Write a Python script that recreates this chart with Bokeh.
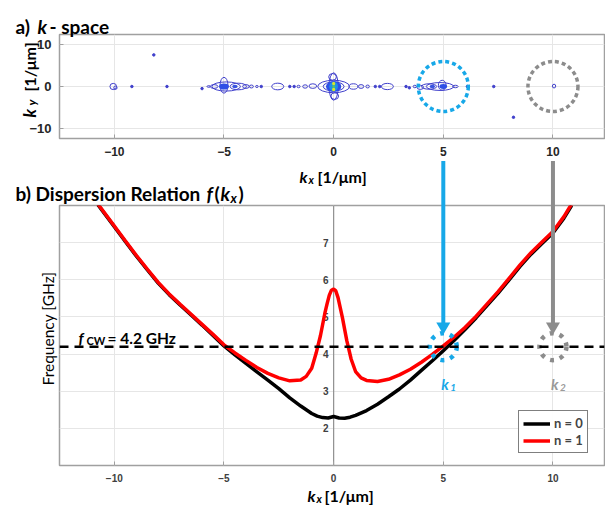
import math
from bokeh.plotting import figure
from bokeh.models import FixedTicker, Span, ColumnDataSource, Legend, LegendItem, Range1d
from bokeh.layouts import column
from bokeh.embed import file_html
from bokeh.resources import INLINE
from bokeh.core.properties import value

# ---------------- data ----------------
kx_ticks = [-10, -5, 0, 5, 10]
ky_ticks = [-10, 0, 10]
f_ticks = [2, 3, 4, 5, 6, 7]
f_grid = [1, 2, 3, 4, 5, 6, 7, 8]

# dispersion n = 0 (black)
k_n0 = [-10.75, -10.0, -9.5, -9.0, -8.5, -8.0, -7.5, -7.0, -6.5, -6.0, -5.5, -5.0, -4.5, -4.0,
        -3.5, -3.0, -2.5, -2.0, -1.5, -1.0, -0.75, -0.5, -0.25, 0.0, 0.25, 0.5, 0.75, 1.0, 1.5,
        2.0, 2.5, 3.0, 3.5, 4.0, 4.5, 5.0, 5.5, 6.0, 6.5, 7.0, 7.5, 8.0, 8.5, 9.0, 9.5, 10.0,
        10.5, 10.85]
f_n0 = [8.02, 7.43, 7.03, 6.64, 6.27, 5.91, 5.60, 5.32, 5.05, 4.78, 4.50, 4.22, 3.98, 3.75,
        3.52, 3.30, 3.07, 2.82, 2.60, 2.40, 2.33, 2.29, 2.28, 2.32, 2.28, 2.27, 2.30, 2.35, 2.48,
        2.65, 2.85, 3.06, 3.30, 3.56, 3.82, 4.09, 4.37, 4.67, 4.98, 5.31, 5.64, 6.00, 6.36, 6.69,
        6.98, 7.26, 7.66, 8.00]

# dispersion n = 1 (red)
k_n1 = [-10.75, -10.0, -9.5, -9.0, -8.5, -8.0, -7.5, -7.0, -6.5, -6.0, -5.5, -5.0, -4.5, -4.0,
        -3.5, -3.0, -2.5, -2.0, -1.5, -1.25, -1.0, -0.8, -0.6, -0.4, -0.3, -0.2, -0.1, 0.0, 0.1,
        0.2, 0.3, 0.4, 0.6, 0.8, 1.0, 1.25, 1.5, 2.0, 2.5, 3.0, 3.5, 4.0, 4.5, 5.0, 5.5, 6.0,
        6.5, 7.0, 7.5, 8.0, 8.5, 9.0, 9.5, 10.0, 10.5, 10.85]
f_n1 = [8.04, 7.45, 7.05, 6.66, 6.29, 5.93, 5.62, 5.34, 5.07, 4.80, 4.53, 4.25, 4.03, 3.83,
        3.64, 3.48, 3.36, 3.28, 3.30, 3.40, 3.62, 4.02, 4.50, 5.10, 5.35, 5.58, 5.72, 5.75, 5.70,
        5.52, 5.25, 4.98, 4.36, 3.86, 3.53, 3.36, 3.29, 3.26, 3.32, 3.44, 3.59, 3.78, 3.99, 4.22,
        4.46, 4.72, 5.02, 5.35, 5.68, 6.04, 6.40, 6.73, 7.02, 7.30, 7.70, 8.04]

f_cw = 4.2
k_marks = [5, 10]
mark_sub = ["1", "2"]

# k-space contour loops (centre kx, centre ky, width, height)
loop_kx = [0.0, 0.0, 0.0, -0.95, -1.3, -1.6, 0.9, 1.25, 1.55, 0.05, -0.05,
           -5.0, -4.9, -4.35, -4.0, -3.75, -3.5, -5.45, -5.7,
           4.95, 4.85, 4.35, 3.95, 3.7, 5.55,
           -2.55, 2.45, -10.05, -9.95, 10.05]
loop_ky = [0.0, 0.0, 0.0, 0.1, 0.0, 0.0, 0.0, 0.0, 0.0, -2.3, 2.3,
           0.3, 0.0, 0.0, 0.0, 0.0, 0.0, 0.0, 0.0,
           0.3, 0.0, 0.0, -0.2, 0.0, 0.0,
           0.0, 0.0, 0.0, -0.3, 0.1]
loop_w = [0.42, 1.45, 0.95, 0.35, 0.22, 0.14, 0.4, 0.25, 0.16, 0.35, 0.35,
          0.36, 1.3, 0.75, 0.3, 0.18, 0.12, 0.35, 0.15,
          0.35, 1.25, 0.7, 0.3, 0.15, 0.25,
          0.55, 0.55, 0.3, 0.15, 0.15]
loop_h = [6.6, 3.0, 2.2, 1.1, 0.8, 0.6, 1.3, 0.9, 0.7, 1.6, 1.6,
          3.8, 2.2, 1.6, 0.9, 0.7, 0.5, 0.9, 0.4,
          2.4, 1.9, 1.3, 1.0, 0.6, 0.6,
          1.6, 1.5, 1.5, 0.8, 0.9]

# filled cores of the k-space peaks
core_kx = [0.0, 0.0, 0.0, 0.0, 0.0, -5.0, 5.0, -4.5, 4.5]
core_ky = [0.0, 0.0, 0.7, -0.7, 0.0, 0.0, 0.0, 0.0, 0.0]
core_w = [0.7, 0.4, 0.14, 0.14, 0.14, 0.45, 0.35, 0.25, 0.25]
core_h = [2.6, 2.2, 0.9, 0.9, 0.6, 1.5, 1.2, 0.8, 0.8]
core_col = ["#2f4fe6", "#1f8fe8", "#d6e62b", "#d6e62b", "#4fc46a", "#2f4fe6", "#2f4fe6",
            "#3a55e0", "#3a55e0"]

# isolated spots
dot_kx = [-9.2, -7.6, -6.0, -3.3, -2.0, -1.8, 1.9, 2.1, 3.3, 3.45, 6.1, 7.3, -8.2, 8.2]
dot_ky = [0.0, 0.0, -0.5, 0.0, 0.0, 0.0, 0.0, 0.0, 0.0, -0.3, 0.0, 0.0, 7.6, -7.4]

# ---------------- geometry / style ----------------
BLUE = "#17a8e8"
GRAY = "#8c8c8c"
CONT = "#4040cc"
FRAME = "#a0a0a0"
GRID = "#e6e6e6"
TICK = "#262626"
TITLE_FONT = "Lato"
TICK_FONT = "Liberation Sans"

W = 605
FL, FR = 59, 604            # frame left / right (page px)
T_TOP, T_BOT = 34, 138      # top frame
B_TOP, B_BOT = 205, 465     # bottom frame
TOP_C0, TOP_C1 = 0, 161     # top canvas
BOT_C0, BOT_C1 = 161, 509   # bottom canvas
XR = (-12.5, 12.35)
KY = (-12.5, 12.5)
FY = (1.0, 8.0)


def px_x(px):
    return XR[0] + (px - FL) * (XR[1] - XR[0]) / (FR - FL)


def top_y(py):
    return KY[1] - (py - T_TOP) * (KY[1] - KY[0]) / (T_BOT - T_TOP)


def bot_y(py):
    return FY[1] - (py - B_TOP) * (FY[1] - FY[0]) / (B_BOT - B_TOP)


def lab(p, text, x, y, size, style="bold", color="black", angle=0.0, align="left",
        font=TITLE_FONT, baseline="alphabetic"):
    p.text(x=[x], y=[y], text=[text], text_font=value(font), text_font_size=f"{size}px",
           text_font_style=style, text_color=color, angle=angle, text_align=align,
           text_baseline=baseline, level="overlay")


def style_fig(p):
    p.outline_line_color = FRAME
    p.outline_line_width = 1.5
    p.background_fill_color = "white"
    p.border_fill_color = "white"
    p.grid.grid_line_color = GRID
    p.grid.grid_line_width = 1
    for ax in p.axis:
        ax.axis_line_color = None
        ax.major_tick_in = 4
        ax.major_tick_out = 0
        ax.major_tick_line_color = FRAME
        ax.minor_tick_line_color = None
        ax.major_label_text_font = TICK_FONT
        ax.major_label_text_font_style = "bold"
        ax.major_label_text_color = TICK


# ---------------- top: k-space ----------------
top = figure(width=W, height=TOP_C1 - TOP_C0, output_backend="svg", toolbar_location=None,
             x_range=Range1d(*XR), y_range=Range1d(*KY),
             min_border_left=FL, min_border_right=W - FR,
             min_border_top=T_TOP - TOP_C0, min_border_bottom=TOP_C1 - T_BOT)
top.xaxis.ticker = FixedTicker(ticks=kx_ticks)
top.yaxis.ticker = FixedTicker(ticks=ky_ticks)
top.xgrid.ticker = FixedTicker(ticks=kx_ticks)
top.ygrid.ticker = FixedTicker(ticks=ky_ticks)
style_fig(top)
top.xaxis.major_label_text_font_size = "12px"
top.yaxis.major_label_text_font_size = "13px"
top.xaxis.major_label_standoff = 8
top.yaxis.major_label_standoff = 8

top.ellipse(x=loop_kx, y=loop_ky, width=loop_w, height=loop_h, fill_color=None,
            line_color=CONT, line_width=1)
top.ellipse(x=core_kx, y=core_ky, width=core_w, height=core_h, fill_color=core_col,
            line_color=None)
top.scatter(x=dot_kx, y=dot_ky, size=2.5, marker="circle", color=CONT)
top.scatter(x=k_marks, y=[0, 0], size=50, marker="circle", fill_color=None,
            line_color=[BLUE, GRAY], line_width=3.5, line_dash="4 3")

# texts of top panel
lab(top, "a)", px_x(15), top_y(26), 19)
lab(top, "k", px_x(37), top_y(26), 19, style="bold italic")
lab(top, "- space", px_x(49), top_y(26), 19)
lab(top, "k", px_x(29), top_y(117), 17, style="bold italic", angle=math.pi / 2)
lab(top, "y", px_x(31), top_y(105), 12, style="bold italic", angle=math.pi / 2)
lab(top, "[1/μm]", px_x(29), top_y(91), 16, angle=math.pi / 2)

# ---------------- bottom: dispersion ----------------
bot = figure(width=W, height=BOT_C1 - BOT_C0, output_backend="svg", toolbar_location=None,
             x_range=Range1d(*XR), y_range=Range1d(*FY),
             min_border_left=FL, min_border_right=W - FR,
             min_border_top=B_TOP - BOT_C0, min_border_bottom=BOT_C1 - B_BOT)
bot.xaxis.ticker = FixedTicker(ticks=kx_ticks)
bot.xgrid.ticker = FixedTicker(ticks=kx_ticks)
bot.ygrid.ticker = FixedTicker(ticks=f_grid)
bot.yaxis.visible = False
style_fig(bot)
bot.xaxis.major_label_text_font_size = "10px"
bot.xaxis.major_label_standoff = 8
bot.xaxis.major_label_text_color = "#404040"

# y axis through the origin
bot.add_layout(Span(location=0, dimension="height", line_color="#909090", line_width=1.2,
                    level="underlay"))
ysrc = ColumnDataSource(dict(x=[0] * len(f_ticks), y=f_ticks, t=[str(v) for v in f_ticks]))
bot.text(x="x", y="y", text="t", source=ysrc, text_align="right", text_baseline="middle",
         x_offset=-5, text_font=value(TICK_FONT), text_font_style="bold",
         text_font_size="10px", text_color="#404040")

r0 = bot.line(k_n0, f_n0, line_color="black", line_width=3.5)
r1 = bot.line(k_n1, f_n1, line_color="#ff0000", line_width=3.5)

bot.add_layout(Span(location=f_cw, dimension="width", line_color="black", line_width=2.5,
                    line_dash="9 6"))
bot.scatter(x=k_marks, y=[f_cw, f_cw], size=27, marker="circle", fill_color=None,
            line_color=[BLUE, GRAY], line_width=4.5, line_dash="4 6")

# arrows (stem + head) from the k-space panel down to the dispersion curves
bot.segment(x0=k_marks, y0=[bot_y(BOT_C0 - 2)] * 2, x1=k_marks, y1=[bot_y(324)] * 2,
            line_color=[BLUE, GRAY], line_width=4, level="overlay")
bot.scatter(x=k_marks, y=[bot_y(326)] * 2, marker="inverted_triangle", size=14,
            fill_color=[BLUE, GRAY], line_color=None, level="overlay")

legend = Legend(items=[LegendItem(label="n = 0", renderers=[r0]),
                       LegendItem(label="n = 1", renderers=[r1])],
                location=(518 - FL, B_BOT - 453), border_line_color="black",
                border_line_width=1, padding=4, spacing=1, glyph_width=27, glyph_height=13,
                label_height=13, label_standoff=4, label_text_font_size="13px",
                label_text_font=TITLE_FONT, label_text_font_style="bold", margin=0)
bot.add_layout(legend)

# k_x label of the k-space panel (sits in the gap between the panels)
lab(bot, "k", px_x(299), bot_y(176), 16, style="bold italic")
lab(bot, "x", px_x(308), bot_y(179), 11, style="bold italic")
lab(bot, "[1/μm]", px_x(317), bot_y(176), 16)

# texts of bottom panel
lab(bot, "b) Dispersion Relation", px_x(15), bot_y(193), 19)
lab(bot, "f", px_x(206), bot_y(193), 19, style="bold italic")
lab(bot, "(", px_x(214), bot_y(193), 19)
lab(bot, "k", px_x(220), bot_y(193), 19, style="bold italic")
lab(bot, "x", px_x(230), bot_y(197), 13, style="bold italic")
lab(bot, ")", px_x(238), bot_y(193), 19)
lab(bot, "Frequency [GHz]", px_x(47), bot_y(328), 15.5, style="normal", angle=math.pi / 2,
    align="center")
lab(bot, "k", px_x(307), bot_y(495), 16, style="bold italic")
lab(bot, "x", px_x(316), bot_y(498), 11, style="bold italic")
lab(bot, "[1/μm]", px_x(324), bot_y(495), 16)
lab(bot, "f", px_x(78), bot_y(337), 15.5, style="bold italic")
lab(bot, "CW", px_x(86), bot_y(340), 11)
lab(bot, "= 4.2 GHz", px_x(107), bot_y(337), 15.5)
for k, s, c in zip(k_marks, mark_sub, [BLUE, "#999999"]):
    lab(bot, "k", k + px_x(331) - px_x(333), bot_y(383), 15, style="bold italic", color=c)
    lab(bot, s, k + px_x(340) - px_x(333), bot_y(387), 10, style="bold italic", color=c)

layout = column(top, bot)
open("out.html", "w").write(file_html(layout, INLINE))
